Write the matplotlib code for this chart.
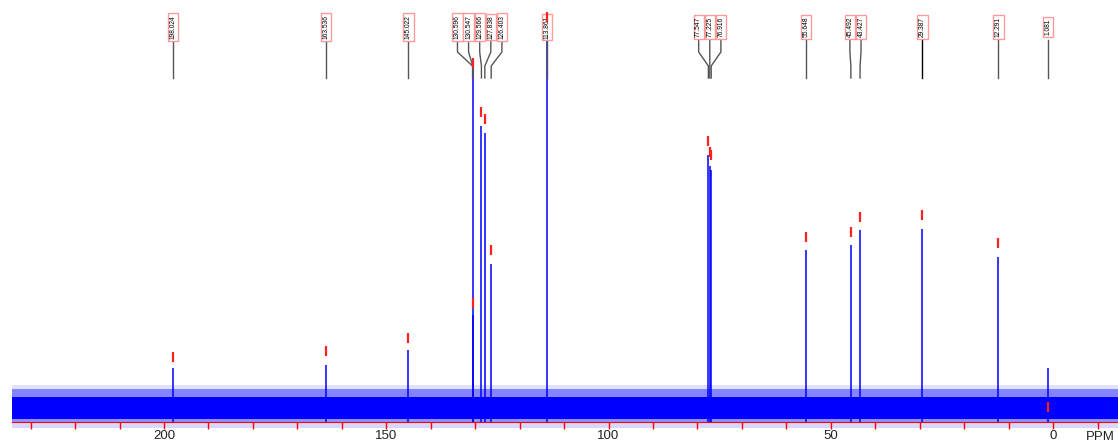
import matplotlib.pyplot as plt
import matplotlib as mpl
mpl.rcParams['font.family'] = ['Liberation Sans', 'DejaVu Sans']

# peak labels (ppm), where the line is drawn, its height and the peak-pick mark height
labels = [198.024, 163.536, 145.022, 130.596, 130.547, 129.566, 127.838,
          126.403, 113.861, 77.547, 77.225, 76.916, 55.648, 45.492, 43.427,
          29.387, 12.291, 1.081]
peak_pos = [198.024, 163.536, 145.022, 130.596, 130.547, 128.6, 127.838,
            126.403, 113.861, 77.547, 77.225, 76.916, 55.648, 45.492, 43.427,
            29.387, 12.291, 1.081]
heights = [54, 57, 72, 360, 107, 296, 289, 158, 384, 267, 256, 252,
           172, 177, 192, 193, 165, 54]
marks = [60, 66, 79, 354, 114, 305, 298, 167, 400, 276, 265, 262,
         180, 185, 200, 202, 174, 10]

# baseline noise band levels
noise_core = (3, 25)
noise_fringe = (33, 37)
noise_below = -6

fig = plt.figure(figsize=(11.18, 4.48), dpi=100)
ax = fig.add_axes([12 / 1118, 0, 1106 / 1118, 1])
ax.set_xlim(234.2, -14.6)
ax.set_ylim(-26, 422)

ax.axhspan(noise_core[0], noise_core[1], color='#0000ff', lw=0, zorder=1)
ax.axhspan(noise_core[1], noise_fringe[0], color='#3333ff', alpha=0.6, lw=0, zorder=1)
ax.axhspan(noise_fringe[0], noise_fringe[1], color='#6666ff', alpha=0.2, lw=0, zorder=1)
ax.axhspan(0, noise_core[0], color='#5555ff', alpha=0.65, lw=0, zorder=1)
ax.axhspan(noise_below, 0, color='#6666ff', alpha=0.25, lw=0, zorder=1)

ax.vlines(peak_pos, 0, heights, color='#0000ff', lw=1.1, zorder=2)
ax.vlines(peak_pos, marks, [m + 10 for m in marks], color='#ff2020', lw=1.6, zorder=5)

# spread the labels of close peaks
groups = [[0]]
for i in range(1, len(labels)):
    if labels[groups[-1][-1]] - labels[i] < 3:
        groups[-1].append(i)
    else:
        groups.append([i])
gap = 2.5
label_x = [0] * len(labels)
for g in groups:
    c = sum(labels[i] for i in g) / len(g)
    for k, i in enumerate(g):
        label_x[i] = c + gap * ((len(g) - 1) / 2 - k)

for i, lab in enumerate(labels):
    lx, px = label_x[i], peak_pos[i]
    col = 'black' if lab == 29.387 else '#555555'
    ax.plot([lx, lx, px, px], [382, 370, 356, 344], color=col, lw=1, zorder=3)
    ax.text(lx, 395, '%.3f' % lab, rotation=90, ha='center', va='center',
            fontsize=4.8, zorder=4,
            bbox=dict(boxstyle='square,pad=0.25', fc='white', ec='#ff9a9a', lw=1))

for s in ['top', 'left', 'right']:
    ax.spines[s].set_visible(False)
ax.spines['bottom'].set_position(('data', 0))
ax.spines['bottom'].set_color('red')
ax.spines['bottom'].set_zorder(3)
ax.set_yticks([])
ax.set_xticks([200, 150, 100, 50, 0])
ax.set_xticks(range(230, -15, -10), minor=True)
ax.tick_params(axis='x', which='both', colors='red', length=5, width=1,
               labelcolor='#222222', labelsize=9.5, pad=1)
ax.text(-10.6, -15, 'PPM', ha='center', va='center', fontsize=9.5, color='#222222')

fig.savefig('out.png', dpi=100)
